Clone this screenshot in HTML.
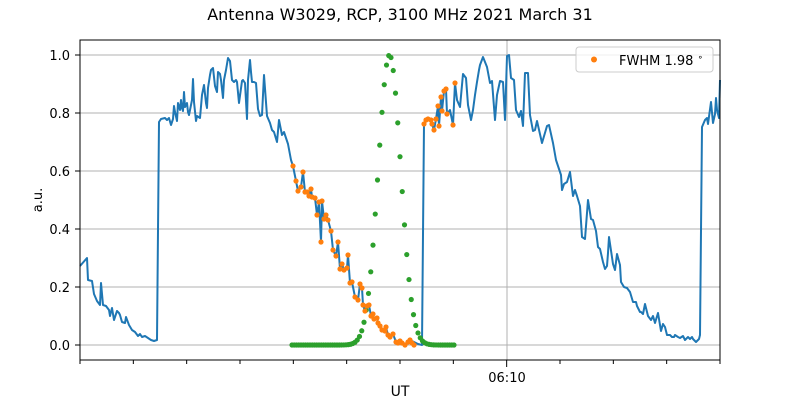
<!DOCTYPE html>
<html><head><meta charset="utf-8"><style>
body{margin:0;background:#fff;}
svg{display:block;font-family:"DejaVu Sans","Liberation Sans",sans-serif;}
</style></head><body>
<svg id="s" width="800" height="400" xmlns="http://www.w3.org/2000/svg">
<rect width="800" height="400" fill="#fff"/>
<text x="400" y="20" font-size="16" text-anchor="middle">Antenna W3029, RCP, 3100 MHz 2021 March 31</text>
<g stroke="#b0b0b0" stroke-width="1">
<line x1="80" x2="720" y1="345" y2="345"/><line x1="80" x2="720" y1="287" y2="287"/>
<line x1="80" x2="720" y1="229" y2="229"/><line x1="80" x2="720" y1="171" y2="171"/>
<line x1="80" x2="720" y1="113" y2="113"/><line x1="80" x2="720" y1="55" y2="55"/>
<line x1="507" x2="507" y1="40" y2="360"/>
</g>
<g id="data"></g>
<rect x="80" y="40" width="640" height="320" fill="none" stroke="#000" stroke-width="1"/>
<g font-size="13" text-anchor="end">
<text x="70" y="350">0.0</text><text x="70" y="292">0.2</text><text x="70" y="234">0.4</text>
<text x="70" y="176">0.6</text><text x="70" y="118">0.8</text><text x="70" y="60">1.0</text>
</g>
<g stroke="#000"><line x1="75" x2="80" y1="345" y2="345"/><line x1="75" x2="80" y1="287" y2="287"/><line x1="75" x2="80" y1="229" y2="229"/><line x1="75" x2="80" y1="171" y2="171"/><line x1="75" x2="80" y1="113" y2="113"/><line x1="75" x2="80" y1="55" y2="55"/></g>
<g id="ticks" stroke="#000"></g>
<text x="507" y="382" font-size="13" text-anchor="middle">06:10</text>
<text x="400" y="400" font-size="14" text-anchor="middle" dy="-4">UT</text>
<text x="42" y="200" font-size="13" text-anchor="middle" transform="rotate(-90 42 200)">a.u.</text>
<rect x="576" y="47" width="137" height="25" rx="3" fill="#fff" fill-opacity="0.8" stroke="#ccc"/>
<circle cx="594" cy="59.5" r="3" fill="#ff7f0e"/>
<text x="619" y="65" font-size="13">FWHM 1.98 <tspan font-size="9" dy="-5">∘</tspan></text>
</svg>
<script>
var NS="http://www.w3.org/2000/svg",d=document.getElementById("data"),t=document.getElementById("ticks");
for(var k=0;k<=12;k++){var x=80+k*53.333;var l=document.createElementNS(NS,"line");l.setAttribute("x1",x);l.setAttribute("x2",x);l.setAttribute("y1",360);l.setAttribute("y2",k==8?367:364);t.appendChild(l);}
var blue="80,266 87,258 88,280 92,281 94,294 97,301 100,305 101,283 103,305 106,306 109,310 110,316 112,308 114,320 117,311 119,313 120,315 122,322 125,323 126,317 129,325 132,330 135,332 138,336 140,334 142,337 145,336 148,338 151,340 154,341 157,340 159,122 161,119 165,118 167,120 169,118 171,125 173,119 174,106 175,112 177,121 178,103 180,110 181,100 182,108 183,111 184,92 185,107 187,103 188,112 189,115 190,110 192,100 193,79 194,102 196,121 197,116 200,118 202,95 204,85 206,103 207,108 208,88 210,75 211,70 213,68 215,86 217,92 218,72 220,74 221,80 223,98 224,80 226,70 228,58 230,61 232,80 234,82 236,80 237,82 239,103 242,81 243,80 245,83 247,119 248,80 250,60 251,72 252,82 254,82 256,83 258,109 260,116 262,115 264,75 267,116 270,123 272,130 274,132 277,142 279,120 282,135 284,132 288,144 291,160 293,166 296,181 298,191 301,187 303,172 305,192 307,192 309,196 311,189 312,197 315,198 317,215 319,202 321,242 322,201 324,219 326,215 328,220 331,231 333,250 336,256 338,242 340,269 342,264 344,270 347,268 348,255 350,283 352,282 355,297 358,300 360,284 362,288 363,305 365,311 367,306 369,305 371,316 373,314 374,319 377,318 378,323 380,326 382,330 385,331 386,327 388,335 390,337 393,334 396,342 398,343 400,341 402,343 405,345 408,342 412,341 418,344 422,345 424,124 426,120 428,119 431,120 432,124 434,130 436,119 438,106 439,126 441,97 442,111 444,91 446,89 447,114 450,110 453,125 455,83 457,100 460,107 463,74 466,78 468,105 471,120 473,110 475,95 477,82 479,70 480,65 483,57 487,67 490,83 492,81 495,120 497,95 500,81 503,82 505,120 507,56 509,55 511,78 514,80 516,110 519,117 521,111 523,126 525,73 528,73 530,115 533,131 535,130 537,121 542,143 547,126 549,125 553,143 556,160 558,166 561,175 562,190 564,184 567,182 570,172 573,196 575,190 577,196 580,206 582,237 585,239 588,200 591,219 593,220 596,231 598,247 600,249 603,262 605,269 607,266 608,253 609,237 613,264 615,270 617,254 620,265 621,282 624,287 627,288 630,292 633,302 636,302 637,306 640,312 641,312 643,314 645,304 648,316 651,320 653,316 655,323 658,313 661,331 663,324 665,327 667,335 670,335 672,337 674,337 675,335 678,337 680,338 683,336 685,340 688,337 690,339 692,337 693,339 695,341 696,342 697,341 699,339 700,335 702,127 705,120 707,118 708,124 711,102 713,123 715,114 716,98 717,110 719,118 720,80";
var p=document.createElementNS(NS,"polyline");p.setAttribute("points",blue);p.setAttribute("fill","none");p.setAttribute("stroke","#1f77b4");p.setAttribute("stroke-width","2");p.setAttribute("stroke-linejoin","round");d.appendChild(p);
function dot(x,y,c){var e=document.createElementNS(NS,"circle");e.setAttribute("cx",x);e.setAttribute("cy",y);e.setAttribute("r",2.6);e.setAttribute("fill",c);d.appendChild(e);}
var org="293,166 296,181 298,191 301,187 303,172 305,192 307,192 309,196 311,189 312,197 315,198 317,215 319,202 321,242 322,201 324,219 326,215 328,220 331,231 333,250 336,256 338,242 340,269 342,264 344,270 347,268 348,255 350,283 352,282 355,297 358,300 360,284 362,288 363,305 365,311 367,306 369,305 371,316 373,314 374,319 377,318 378,323 380,326 382,330 385,331 386,327 388,335 390,337 393,334 396,342 398,343 400,341 402,343 405,345 408,342 410,340 412,343 414,345 424,124 426,120 428,119 431,120 432,124 434,130 436,119 438,106 439,126 441,97 442,111 444,91 446,89 447,114 453,125 455,83".split(" ");
for(var x=292;x<=456;x+=2.25){var y=345-290*Math.exp(-Math.pow(x-389.5,2)/(2*11.3*11.3));dot(x,y,"#2ca02c");}
org.forEach(function(s){var a=s.split(",");dot(+a[0],+a[1],"#ff7f0e");});
</script>
</body></html>
